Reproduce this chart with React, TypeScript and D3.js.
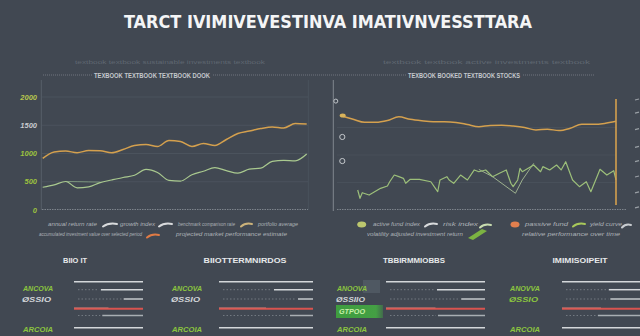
import React, { useEffect } from "react";
import * as d3 from "d3";

const TITLE = "TARCT IVIMIVEVESTINVA IMATIVNVESSTTARA";
const SUB_LEFT = "TEXBOOK TEXTBOOK TEXTBOOK DOOK";
const SUB_RIGHT = "TEXBOOK BOOKED TEXTBOOK STOCKS";
const FAINT_LEFT = "textbook textbook sustainable investments textbook";
const FAINT_RIGHT = "textbook textbook active investments textbook";

const leftTickValues = [0, 500, 1000, 1500, 2000];
const leftTickLabels = ["0", "500", "1000", "1500", "2000"];
const leftOrange = [915, 1027, 1044, 1014, 1053, 1050, 1012, 1071, 1142, 1159, 1124, 1230, 1212, 1124, 1177, 1142, 1248, 1354, 1398, 1442, 1469, 1451, 1531, 1522];
const leftGreen = [402, 446, 504, 393, 409, 485, 531, 575, 614, 719, 664, 524, 512, 625, 685, 749, 697, 651, 722, 740, 860, 880, 871, 991];
const leftGhost = [505, 502, 498, 494];

const rightOrange = [85.5, 82.5, 79.7, 79.7, 81.3, 84.7, 82.4, 81.1, 80.3, 80.3, 79.6, 77.7, 75.7, 76.8, 77.0, 76.3, 75.0, 72.7, 73.5, 72.2, 74.3, 78.0, 77.9, 78.7, 80.6];
const rightGreenDays = [7, 8, 9, 12, 17, 20, 21, 23, 25, 27, 28, 30, 34, 39, 41, 42, 43, 46, 47, 49, 52, 55, 58, 60, 63, 66, 69, 72, 74, 75, 77, 78, 79, 84, 87, 88, 91, 94, 96, 98, 101, 104, 107, 109, 112, 113, 116, 119, 120];
const rightGreen = [18.2, 10.6, 15.7, 13.6, 19.7, 21.8, 25.7, 31.8, 30.3, 28.8, 24.3, 27.9, 27.9, 25.7, 19.7, 16.6, 27.3, 30.3, 27.3, 24.3, 31.8, 27.3, 36.4, 34.8, 36.4, 30.3, 33.4, 36.4, 24.3, 21.2, 27.3, 37.9, 34.8, 40.9, 34.8, 39.4, 36.4, 40.9, 36.4, 43.9, 27.3, 21.2, 25.7, 16.6, 31.8, 37, 31.8, 35.7, 27.3];
const rightGreen2Days = [60, 66, 76, 79, 84];
const rightGreen2 = [36.9, 30.3, 15.2, 27.3, 42.4];
const rightMarkers = [99, 66.4, 44.5];
const rightEdgeTicks = [100, 88, 73, 57, 44, 30, 15.5, 2];

const leftLegend1 = ["annual return rate", "growth index", "benchmark comparison rate", "portfolio average"];
const leftLegend2 = ["accumulated investment value over selected period", "projected market performance estimate"];
const rightLegend1 = ["active fund index", "risk index", "passive fund", "yield curve"];
const rightLegend2 = ["volatility adjusted investment return", "relative performance over time"];

const tableHeaders = ["BIIO IT", "BIIOTTERMNIRDOS", "TBBIRMMIOBBS", "IMIMISOIPEIT"];
const tableLabelsA = ["ANCOVA", "ANCOVA", "ANOOVA", "ANOVVA"];
const tableLabelsB = ["ØSSIO", "ØSSIO", "ØSSIIO", "ØSSIO"];
const tableLabelsC = ["ARCOIA", "ARCOIA", "ARCOIA", "ARCOIA"];
const tableHighlight = "GTPOO";
const barRow2 = [61, 41.5, 48.5, 40];
const barRow3 = [28, 16, 24, 38];
const barRow5 = [59, 24.5, 47.5, 54];

const BG = "#414852";
const ORANGE = "#d4a04e";
const GREEN_LINE = "#a9c98f";
const LABEL_GREEN = "#8cc63f";

function Swoosh({ x, y, w, color }: { x: number; y: number; w: number; color: string }) {
  return (
    <path
      d={`M${x},${y + 1.5} Q${x + w * 0.4},${y - 2.5} ${x + w},${y - 1}`}
      stroke={color}
      strokeWidth={2}
      fill="none"
      strokeLinecap="round"
    />
  );
}

export default function App() {
  useEffect(() => {
    document.body.style.margin = "0";
  }, []);

  const lx = d3.scaleLinear().domain([0, leftOrange.length - 1]).range([42.7, 306.7]);
  const ly = d3.scaleLinear().domain([0, 2000]).range([210, 97]);
  const leftLine = d3
    .line<number>()
    .x((_, i) => lx(i))
    .y((d) => ly(d))
    .curve(d3.curveMonotoneX);
  const ghostLine = d3
    .line<number>()
    .x((_, i) => lx(i + 2))
    .y((d) => ly(d));
  const tickColors = ["#9dc23f", "#9dc23f", "#9dc23f", "#c9ccd0", "#b7c64e"];

  const rx = d3.scaleLinear().domain([0, 120]).range([341.7, 616]);
  const ry = d3.scaleLinear().domain([0, 100]).range([210, 100]);
  const rOrangeLine = d3
    .line<number>()
    .x((_, i) => rx(i * 5))
    .y((d) => ry(d))
    .curve(d3.curveMonotoneX);
  const pairLine = d3
    .line<[number, number]>()
    .x((d) => rx(d[0]))
    .y((d) => ry(d[1]));
  const greenPairs: [number, number][] = rightGreenDays.map((d, i) => [d, rightGreen[i]]);
  const green2Pairs: [number, number][] = rightGreen2Days.map((d, i) => [d, rightGreen2[i]]);

  const tables = [
    { hc: 75, hw: 24, lx: 22, x0: 74, x1: 143 },
    { hc: 245, hw: 83, lx: 171, x0: 219, x1: 313 },
    { hc: 414, hw: 62, lx: 336, x0: 386, x1: 485 },
    { hc: 580, hw: 55, lx: 509, x0: 562, x1: 640 },
  ];

  const legendTextProps = {
    fontSize: 5.5,
    fill: "#aeb3b8",
    lengthAdjust: "spacingAndGlyphs" as const,
    fontStyle: "italic" as const,
  };

  return (
    <svg
      width={640}
      height={336}
      style={{ display: "block", position: "absolute", left: 0, top: 0 }}
      fontFamily="'Liberation Sans', Arial, sans-serif"
    >
      <defs>
        <linearGradient id="hl" x1="0" x2="1" y1="0" y2="0">
          <stop offset="0" stopColor="#3f9d3f" />
          <stop offset="0.85" stopColor="#44a044" />
          <stop offset="1" stopColor="#44a044" stopOpacity={0.4} />
        </linearGradient>
      </defs>
      <rect x={0} y={0} width={640} height={336} fill={BG} />

      <text
        x={328}
        y={28}
        textAnchor="middle"
        fontSize={17.5}
        fontWeight="bold"
        fill="#f4f5f6"
        textLength={408}
        lengthAdjust="spacingAndGlyphs"
        fontFamily="'Liberation Sans Narrow','DejaVu Sans Condensed','Liberation Sans',Arial"
      >
        {TITLE}
      </text>

      <text x={75} y={64} fontSize={6} fill="#5f6771" textLength={190} lengthAdjust="spacingAndGlyphs">
        {FAINT_LEFT}
      </text>
      <text x={383} y={64} fontSize={6} fill="#5f6771" textLength={207} lengthAdjust="spacingAndGlyphs">
        {FAINT_RIGHT}
      </text>

      <line x1={43} x2={594} y1={75} y2={75} stroke="#7b828a" strokeWidth={0.8} strokeDasharray="1,1" />
      <rect x={92} y={71} width={120} height={8} fill={BG} />
      <rect x={406} y={71} width={116} height={8} fill={BG} />
      <text x={94} y={77.5} fontSize={6.5} fontWeight="bold" fill="#c5c9cd" textLength={116} lengthAdjust="spacingAndGlyphs">
        {SUB_LEFT}
      </text>
      <text x={408} y={77.5} fontSize={6.5} fontWeight="bold" fill="#c5c9cd" textLength={112} lengthAdjust="spacingAndGlyphs">
        {SUB_RIGHT}
      </text>

      {/* Left chart */}
      <line x1={41.3} x2={41.3} y1={80} y2={210} stroke="#5d656e" strokeWidth={0.8} />
      <line x1={308.3} x2={308.3} y1={80} y2={210} stroke="#4d555e" strokeWidth={0.8} />
      {leftTickValues.map((t, i) => (
        <g key={t}>
          {t > 0 && (
            <line x1={42} x2={308} y1={ly(t)} y2={ly(t)} stroke="#525a64" strokeWidth={0.6} />
          )}
          <text
            x={37}
            y={ly(t) + 2.5}
            textAnchor="end"
            fontSize={7.5}
            fontStyle="italic"
            fontWeight="bold"
            fill={tickColors[i]}
          >
            {leftTickLabels[i]}
          </text>
        </g>
      ))}
      <line x1={42} x2={308} y1={209.5} y2={209.5} stroke="#8d949c" strokeWidth={0.8} strokeDasharray="1.5,1" />
      <path d={ghostLine(leftGhost) || ""} stroke="#8fb08a" strokeWidth={1} fill="none" opacity={0.7} />
      <path d={leftLine(leftGreen) || ""} stroke={GREEN_LINE} strokeWidth={1.2} fill="none" />
      <path d={leftLine(leftOrange) || ""} stroke={ORANGE} strokeWidth={1.5} fill="none" />

      <text x={48} y={226} textLength={49} {...legendTextProps}>{leftLegend1[0]}</text>
      <Swoosh x={103} y={225} w={14} color="#d8dadc" />
      <text x={120} y={226} textLength={35} {...legendTextProps}>{leftLegend1[1]}</text>
      <Swoosh x={159} y={225} w={13} color="#d8dadc" />
      <text x={178} y={226} textLength={57} {...legendTextProps}>{leftLegend1[2]}</text>
      <Swoosh x={241} y={225} w={11} color="#cbb27a" />
      <text x={258} y={226} textLength={40} {...legendTextProps}>{leftLegend1[3]}</text>
      <text x={39} y={236} textLength={103} {...legendTextProps}>{leftLegend2[0]}</text>
      <Swoosh x={147} y={236} w={12} color="#e07b45" />
      <text x={176} y={236} textLength={111} {...legendTextProps}>{leftLegend2[1]}</text>

      {/* Right chart */}
      <line x1={333.3} x2={333.3} y1={80} y2={211} stroke="#80878f" strokeWidth={1} />
      {[25, 50, 75].map((v) => (
        <line key={v} x1={337} x2={616} y1={ry(v)} y2={ry(v)} stroke="#4d555f" strokeWidth={0.6} />
      ))}
      <line x1={337} x2={627} y1={209.5} y2={209.5} stroke="#8d949c" strokeWidth={0.8} strokeDasharray="1.5,1" />
      {rightMarkers.map((v, i) => (
        <circle
          key={i}
          cx={i === 0 ? 335.8 : 342.3}
          cy={ry(v)}
          r={i === 0 ? 2 : 2.6}
          fill="none"
          stroke="#c3c7cb"
          strokeWidth={1}
        />
      ))}
      {rightEdgeTicks.map((v, i) => (
        <line key={i} x1={635} x2={639} y1={ry(v)} y2={ry(v) - 1} stroke="#9aa0a6" strokeWidth={1.2} />
      ))}
      <path d={pairLine(green2Pairs) || ""} stroke="#b8d0a0" strokeWidth={0.9} fill="none" opacity={0.85} />
      <path d={pairLine(greenPairs) || ""} stroke="#9cbf7a" strokeWidth={1.2} fill="none" strokeLinejoin="round" />
      <path d={rOrangeLine(rightOrange) || ""} stroke={ORANGE} strokeWidth={1.5} fill="none" />
      <ellipse cx={rx(0) + 1} cy={ry(rightOrange[0]) - 0.5} rx={3} ry={2} fill="#d9b35a" />
      <line x1={616} x2={616} y1={99} y2={205} stroke={ORANGE} strokeWidth={1.6} />

      <ellipse cx={361.7} cy={224.5} rx={4.5} ry={3} fill="#bcc76e" />
      <text x={373} y={226} textLength={47} {...legendTextProps}>{rightLegend1[0]}</text>
      <Swoosh x={425} y={225} w={12} color="#d8dadc" />
      <text x={443} y={226} textLength={35} {...legendTextProps}>{rightLegend1[1]}</text>
      <Swoosh x={480} y={226} w={11} color="#c8dcb0" />
      <ellipse cx={515} cy={224.5} rx={4.5} ry={3} fill="#e27f4e" />
      <text x={525} y={226} textLength={43} {...legendTextProps}>{rightLegend1[2]}</text>
      <Swoosh x={573} y={225} w={12} color="#a8c85a" />
      <text x={590} y={226} textLength={32} {...legendTextProps}>{rightLegend1[3]}</text>
      <Swoosh x={622} y={226} w={9} color="#c8ccd0" />
      <text x={367} y={236} textLength={96} {...legendTextProps}>{rightLegend2[0]}</text>
      <path d="M468,238 L482,229 L487,231 L473,240 Z" fill="#7cb342" />
      <text x={522} y={236} textLength={98} {...legendTextProps}>{rightLegend2[1]}</text>

      {/* Tables */}
      {tables.map((t, i) => {
        const bx = d3.scaleLinear().domain([0, 100]).range([0, t.x1 - t.x0]);
        const solid = (y: number, color = "#d4d7da", w = 1.5) => (
          <line x1={t.x0} x2={t.x1} y1={y} y2={y} stroke={color} strokeWidth={w} />
        );
        const dashBar = (y: number, val: number, color: string) => (
          <g>
            <line x1={t.x0 + 4} x2={t.x1 - bx(val) - 2} y1={y} y2={y} stroke="#7f868e" strokeWidth={0.8} strokeDasharray="1.5,2" />
            <line x1={t.x1 - bx(val)} x2={t.x1} y1={y} y2={y} stroke={color} strokeWidth={1.5} />
          </g>
        );
        return (
          <g key={i}>
            <text
              x={t.hc}
              y={262.5}
              textAnchor="middle"
              fontSize={7}
              fontWeight="bold"
              fill="#e6e8ea"
              textLength={t.hw}
              lengthAdjust="spacingAndGlyphs"
            >
              {tableHeaders[i]}
            </text>
            {i === 2 && <rect x={363} y={280} width={17} height={13} fill="#56606a" opacity={0.7} />}
            {i === 2 && <rect x={336} y={305} width={47} height={13} fill="url(#hl)" />}
            <text x={t.lx + 1} y={290.5} fontSize={8} fontWeight="bold" fontStyle="italic" fill={LABEL_GREEN} textLength={30} lengthAdjust="spacingAndGlyphs">
              {tableLabelsA[i]}
            </text>
            <text x={t.lx} y={301.5} fontSize={8} fontWeight="bold" fontStyle="italic" fill={i === 3 ? LABEL_GREEN : "#d3d6d9"} textLength={29} lengthAdjust="spacingAndGlyphs">
              {tableLabelsB[i]}
            </text>
            {i === 2 && (
              <text x={339} y={314} fontSize={8} fontWeight="bold" fontStyle="italic" fill="#c9f0a8" textLength={26} lengthAdjust="spacingAndGlyphs">
                {tableHighlight}
              </text>
            )}
            <text x={t.lx + 1} y={332} fontSize={8} fontWeight="bold" fontStyle="italic" fill={LABEL_GREEN} textLength={30} lengthAdjust="spacingAndGlyphs">
              {tableLabelsC[i]}
            </text>
            {solid(281.7)}
            {dashBar(289.7, barRow2[i], "#d4d7da")}
            {dashBar(299, barRow3[i], "#c4c8cc")}
            {solid(308.8, "#d9534f", 2)}
            <line x1={t.x0} x2={t.x0 + (t.x1 - t.x0) * 0.5} y1={307.8} y2={307.8} stroke="#e58a80" strokeWidth={0.8} opacity={0.7} />
            {dashBar(315.5, barRow5[i], "#a9aeb3")}
            {solid(327.7)}
          </g>
        );
      })}
    </svg>
  );
}
